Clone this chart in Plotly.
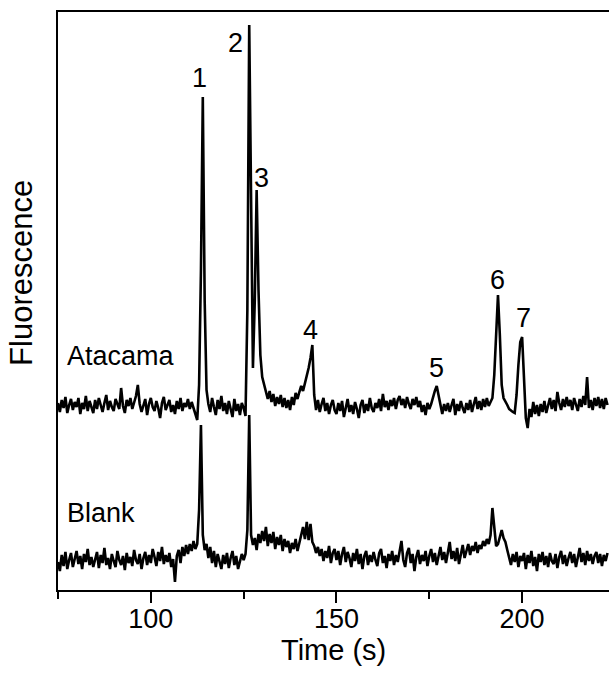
import plotly.graph_objects as go

# Time grid (s): 75.0 to 223.0 every 0.5 s
t_start = 75.0
t_step = 0.5

atacama = [
    187, 178, 190, 182, 193, 177, 185, 191, 180, 188,
    183, 192, 176, 187, 181, 194, 179, 189, 183, 177,
    190, 181, 192, 184, 178, 187, 195, 180, 189, 183,
    179, 191, 186, 181, 202, 184, 177, 190, 184, 192,
    181, 188, 194, 205, 186, 178, 184, 191, 175, 186,
    192, 183, 179, 189, 182, 172, 187, 193, 180, 186,
    190, 178, 185, 176, 189, 181, 192, 179, 187, 183,
    191, 181, 188, 182, 176, 170, 205, 320, 493, 290,
    200, 186, 178, 192, 183, 175, 190, 181, 194, 179,
    187, 176, 189, 181, 173, 191, 179, 186, 175, 187,
    182, 174, 280, 565, 370, 222, 290, 400, 300, 235,
    213, 205, 198, 191, 199, 188, 196, 184, 193, 186,
    195, 183, 192, 182, 190, 180, 193, 185, 197, 191,
    198, 204, 199, 207, 212, 222, 232, 245, 195, 180,
    190, 178, 186, 192, 179, 187, 176, 185, 190, 180,
    176, 187, 179, 189, 173, 184, 191, 178, 185, 176,
    188, 181, 172, 185, 190, 177, 186, 179, 192, 182,
    178, 187, 182, 191, 179, 196, 183, 189, 180, 190,
    184, 192, 181, 190, 194, 185, 191, 182, 193, 186,
    181, 191, 185, 193, 183, 189, 178, 185, 175, 187,
    181, 186, 193, 199, 204, 195, 183, 176, 186, 179,
    187, 178, 185, 191, 175, 186, 179, 189, 182, 177,
    187, 180, 190, 178, 186, 193, 181, 189, 180, 191,
    183, 192, 184, 189, 192, 215, 265, 295, 255, 205,
    192, 189, 185, 181, 179, 178, 177, 195, 225, 248,
    253, 215, 172, 162, 181, 173, 188, 176, 185, 174,
    186, 178, 189, 177, 186, 192, 181, 190, 179, 198,
    187, 180, 191, 183, 193, 184, 190, 180, 192, 185,
    179, 191, 183, 194, 185, 213, 182, 190, 180, 192,
    184, 193, 182, 191, 181, 192, 185,
]

blank = [
    28, 19, 35, 24, 38, 21, 30, 37, 23, 32,
    39, 26, 34, 21, 36, 28, 41, 25, 33, 23,
    30, 38, 22, 35, 27, 42, 25, 32, 21, 36,
    29, 23, 39, 30, 25, 34, 20, 37, 27, 33,
    24, 40, 30, 26, 36, 21, 32, 38, 25, 35,
    27, 41, 33, 24, 38, 29, 43, 26, 35, 28,
    37, 23, 31, 8, 34, 40, 27, 43, 34, 45,
    36, 46, 39, 49, 41, 46, 80, 165, 55, 40,
    46, 32, 43, 27, 39, 23, 36, 29, 21, 35,
    26, 37, 22, 32, 39, 25, 34, 21, 30, 36,
    30, 36, 60, 175, 55, 45, 52, 40, 56, 47,
    59, 49, 63, 44, 56, 47, 58, 41, 53, 45,
    55, 39, 51, 43, 49, 37, 47, 41, 51, 39,
    47, 56, 63, 51, 68, 50, 66, 48, 44, 37,
    43, 34, 41, 29, 39, 32, 44, 27, 37, 41,
    30, 39, 25, 36, 43, 28, 38, 32, 23, 37,
    29, 41, 26, 36, 21, 34, 39, 25, 35, 28,
    38, 30, 24, 37, 41, 27, 34, 22, 36, 29,
    39, 25, 35, 28, 37, 49, 30, 23, 37, 42,
    27, 36, 19, 33, 40, 26, 35, 29, 39, 24,
    34, 41, 28, 37, 25, 35, 43, 30, 38, 27,
    36, 48, 31, 39, 29, 42, 26, 37, 45, 32,
    40, 46, 35, 44, 39, 48, 37, 45, 41, 49,
    44, 51, 46, 55, 82, 62, 44, 46, 52, 60,
    52, 48, 40, 32, 25, 36, 28, 38, 23, 34,
    29, 37, 21, 35, 27, 39, 24, 33, 19, 36,
    28, 38, 25, 34, 23, 37, 29, 26, 36, 22,
    33, 39, 26, 35, 24, 32, 38, 27, 36, 23,
    34, 42, 28, 37, 25, 39, 29, 36, 26, 34,
    38, 27, 36, 24, 35, 29, 37,
]

time_s = [t_start + t_step * i for i in range(len(atacama))]

# Peak labels
peak_labels = ["1", "2", "3", "4", "5", "6", "7"]
peak_label_t = [113.2, 122.8, 129.9, 142.9, 177.0, 193.5, 200.5]
peak_label_y = [512, 547, 412, 260, 222, 310, 272]

trace_names = ["Atacama", "Blank"]
trace_name_t = [77.0, 77.0]
trace_name_y = [234, 77]

x_range = [75.0, 223.4]
y_range = [0, 578]
major_ticks = [100, 150, 200]
minor_ticks = [75, 125, 175, 225]

FONT = "Liberation Sans, Arial, sans-serif"

fig = go.Figure()
fig.add_trace(go.Scatter(x=time_s, y=atacama, mode="lines",
                         line=dict(color="black", width=2.6), name="Atacama"))
fig.add_trace(go.Scatter(x=time_s, y=blank, mode="lines",
                         line=dict(color="black", width=2.6), name="Blank"))

annotations = []
for lab, tx, ty in zip(peak_labels, peak_label_t, peak_label_y):
    annotations.append(dict(x=tx, y=ty, xref="x", yref="y", text=lab, showarrow=False,
                            font=dict(family=FONT, size=27, color="black"),
                            xanchor="center", yanchor="middle"))
for lab, tx, ty in zip(trace_names, trace_name_t, trace_name_y):
    annotations.append(dict(x=tx, y=ty, xref="x", yref="y", text=lab, showarrow=False,
                            font=dict(family=FONT, size=27, color="black"),
                            xanchor="left", yanchor="middle"))
annotations.append(dict(x=-0.066, y=0.548, xref="paper", yref="paper", text="Fluorescence",
                        textangle=-90, showarrow=False,
                        font=dict(family=FONT, size=31, color="black"),
                        xanchor="center", yanchor="middle"))
annotations.append(dict(x=0.5, y=-0.104, xref="paper", yref="paper", text="Time (s)",
                        showarrow=False, font=dict(family=FONT, size=29, color="black"),
                        xanchor="center", yanchor="middle"))

fig.update_layout(
    width=609, height=675,
    margin=dict(l=58, r=0, t=12, b=85),
    paper_bgcolor="white", plot_bgcolor="white",
    showlegend=False,
    annotations=annotations,
    font=dict(family=FONT, color="black"),
)
fig.update_xaxes(
    range=x_range, showgrid=False, zeroline=False,
    showline=True, linecolor="black", linewidth=2, mirror=True,
    tickmode="array", tickvals=major_ticks, ticks="outside", ticklen=11,
    tickwidth=2, tickcolor="black", ticklabelstandoff=-7,
    tickfont=dict(family=FONT, size=27, color="black"),
    minor=dict(tickmode="array", tickvals=minor_ticks, ticks="outside", ticklen=7,
               tickwidth=2, tickcolor="black", showgrid=False),
)
fig.update_yaxes(
    range=y_range, showgrid=False, zeroline=False,
    showline=True, linecolor="black", linewidth=2, mirror=False,
    showticklabels=False, ticks="",
)

fig.write_html("out.html")
